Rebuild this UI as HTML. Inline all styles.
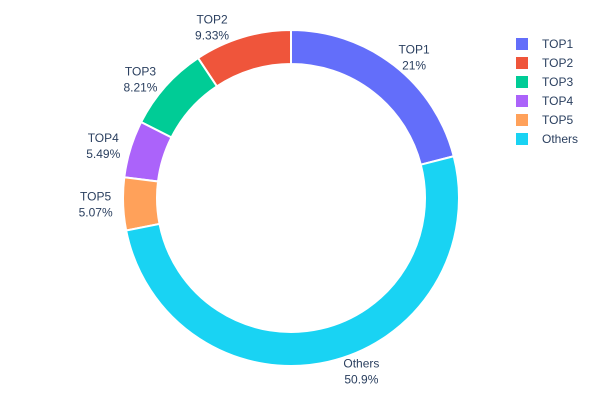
<!DOCTYPE html>
<html><head><meta charset="utf-8"><style>
body{margin:0;background:#fff;}
svg{font-family:"Liberation Sans",Arial,sans-serif;}
</style></head><body>
<svg id="chart" width="600" height="400" viewBox="0 0 600 400"></svg>
<script>
const labels=["TOP1","TOP2","TOP3","TOP4","TOP5","Others"];
const values=[21,9.33,8.21,5.49,5.07,50.9];
const valueLabels=["21%","9.33%","8.21%","5.49%","5.07%","50.9%"];
const colors=["#636efa","#EF553B","#00cc96","#ab63fa","#FFA15A","#19d3f3"];
const svg=document.getElementById('chart');
const NS="http://www.w3.org/2000/svg";
const cx=291,cy=198,R=168,r=134;
const total=values.reduce((a,b)=>a+b,0);
const startDeg=values[0]/total*360;
function pt(deg,rad){const a=deg*Math.PI/180;return [cx+rad*Math.sin(a),cy-rad*Math.cos(a)];}
let cum=0;
values.forEach((v,i)=>{
  const a1=startDeg-cum/total*360, a0=startDeg-(cum+v)/total*360;
  const large=(a1-a0)>180?1:0;
  const [x1,y1]=pt(a0,R),[x2,y2]=pt(a1,R),[x3,y3]=pt(a1,r),[x4,y4]=pt(a0,r);
  const p=document.createElementNS(NS,'path');
  p.setAttribute('d',`M${x1},${y1}A${R},${R} 0 ${large} 1 ${x2},${y2}L${x3},${y3}A${r},${r} 0 ${large} 0 ${x4},${y4}Z`);
  p.setAttribute('fill',colors[i]);p.setAttribute('stroke','#fff');p.setAttribute('stroke-width','2');
  
  
  svg.appendChild(p);
  const mid=(a0+a1)/2;
  const [px,py]=pt(mid,178);
  const w=Math.max(labels[i].length,valueLabels[i].length)*7;
  const s=Math.sin(mid*Math.PI/180);
  const tx=px+(s>0.05?w/2:(s<-0.05?-w/2:0))+ (Math.abs(s)<0.3? (s>=0?10:-10):0);
  const t=document.createElementNS(NS,'text');
  t.setAttribute('x',tx);t.setAttribute('y',py-4);t.setAttribute('text-anchor','middle');
  t.setAttribute('font-size','12');t.setAttribute('fill','#2a3f5f');
  
  
  const s1=document.createElementNS(NS,'tspan');s1.setAttribute('x',tx);s1.textContent=labels[i];
  const s2=document.createElementNS(NS,'tspan');s2.setAttribute('x',tx);s2.setAttribute('dy','16');s2.textContent=valueLabels[i];
  t.appendChild(s1);t.appendChild(s2);svg.appendChild(t);
  cum+=v;
});
labels.forEach((l,i)=>{
  const g=document.createElementNS(NS,'g');
  
  
  const y=44+i*19;
  const rc=document.createElementNS(NS,'rect');
  rc.setAttribute('x',516);rc.setAttribute('y',y-6);rc.setAttribute('width',12);rc.setAttribute('height',12);rc.setAttribute('fill',colors[i]);
  const t=document.createElementNS(NS,'text');
  t.setAttribute('x',542);t.setAttribute('y',y+4);t.setAttribute('font-size','12');t.setAttribute('fill','#2a3f5f');t.textContent=l;
  g.appendChild(rc);g.appendChild(t);svg.appendChild(g);
});
</script>
</body></html>
